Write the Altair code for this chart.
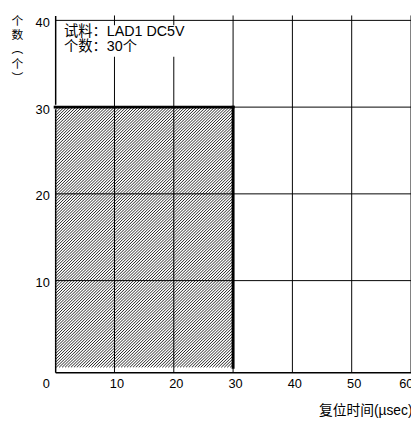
import altair as alt
import pandas as pd

# ---- data ----
bin_start = [0]
bin_end = [30]
bin_count = [30]
x_ticks = [0, 10, 20, 30, 40, 50, 60]
y_ticks = [0, 10, 20, 30, 40]
sample_name = "LAD1 DC5V"
sample_n = 30
x_title = "复位时间(µsec)"
y_title = ["个", "数", "︵", "个", "︶"]

FONT = "Liberation Sans, Noto Sans CJK SC"
W, H = 362, 363
XDOM, YDOM = [0, 60], [0, 40]

bars = pd.DataFrame({"start": bin_start, "end": bin_end, "count": bin_count})
vgrid = pd.DataFrame({"v": x_ticks[1:]})
hgrid = pd.DataFrame({"v": y_ticks[1:]})
note = pd.DataFrame({"label": [f"试料：{sample_name}\n个数：{sample_n}个"]})

# ---- hatch decoration: 45° strokes clipped to the bar, derived from bar extents ----
sx = W / (XDOM[1] - XDOM[0])   # px per x unit
sy = H / (YDOM[1] - YDOM[0])   # px per y unit
hatch_rows = []
spacing = 3.0
for s, e, c in zip(bin_start, bin_end, bin_count):
    bx0, bx1 = s * sx, e * sx
    bh = c * sy
    k = -(bx1 - bx0)
    while k < bh:
        px0 = max(0.0, -k)
        px1 = min(bx1 - bx0, bh - k)
        if px1 > px0:
            hatch_rows.append({
                "hx": (bx0 + px0) / sx, "hy": (px0 + k) / sy,
                "hx2": (bx0 + px1) / sx, "hy2": (px1 + k) / sy,
            })
        k += spacing
hatch = pd.DataFrame(hatch_rows)

xs = alt.Scale(domain=XDOM, nice=False, zero=False)
ys = alt.Scale(domain=YDOM, nice=False, zero=False)

bar = alt.Chart(bars).mark_bar(color="white").encode(
    x=alt.X("start:Q", scale=xs, axis=alt.Axis(
        values=x_ticks, title=x_title,
        labelExpr="datum.value == 0 ? '' : datum.label",
        labelPadding=6, labelOffset=2, labelFlush=True,
        titleAnchor="end", titleAlign="right", titleX=W + 1, titleY=39,
        titleBaseline="middle", titleFontSize=14,
    )),
    x2="end:Q",
    y=alt.Y("count:Q", scale=ys, axis=alt.Axis(
        values=y_ticks, title=y_title, titleAngle=0,
        titleX=-39, titleY=0, titleAlign="center", titleBaseline="top",
        titleLineHeight=14.5, titleFontSize=12,
        labelPadding=6, labelOffset=2, labelFlush=False,
        labelExpr="datum.value === 0 ? ['', datum.label] : datum.label",
        labelLineHeight=15,
    )),
)

hatch_layer = alt.Chart(hatch).mark_rule(color="#1a1a1a", strokeWidth=0.95).encode(
    x=alt.X("hx:Q", scale=xs), y=alt.Y("hy:Q", scale=ys), x2="hx2:Q", y2="hy2:Q"
)

vrules = alt.Chart(vgrid).mark_rule(color="black", strokeWidth=1).encode(
    x=alt.X("v:Q", scale=xs)
)
hrules = alt.Chart(hgrid).mark_rule(color="black", strokeWidth=1).encode(
    y=alt.Y("v:Q", scale=ys)
)

top_edge = alt.Chart(bars).mark_rule(color="black", strokeWidth=3, strokeCap="square").encode(
    x=alt.X("start:Q", scale=xs), x2="end:Q", y=alt.Y("count:Q", scale=ys)
)
right_edge = alt.Chart(bars).mark_rule(color="black", strokeWidth=3, strokeCap="square").encode(
    x=alt.X("end:Q", scale=xs), y=alt.Y("count:Q", scale=ys), y2=alt.datum(0)
)

note_bg = alt.Chart(note).mark_rect(color="white").encode(
    x=alt.value(5), x2=alt.value(150), y=alt.value(10), y2=alt.value(42)
)
note_text = alt.Chart(note).mark_text(
    align="left", baseline="top", fontSize=14.5, lineHeight=15,
    font=FONT, color="black", lineBreak="\n",
).encode(x=alt.value(9), y=alt.value(10), text="label:N")

chart = alt.layer(
    bar, hatch_layer, vrules, hrules, top_edge, right_edge, note_bg, note_text
).properties(
    width=W, height=H,
    padding={"left": 48, "top": 4, "right": 0, "bottom": 47},
    autosize=alt.AutoSizeParams(type="none"),
).configure_view(stroke="transparent").configure_axis(
    grid=False, ticks=False, tickSize=0,
    domainColor="black", domainWidth=1.5,
    labelFont=FONT, labelFontSize=13, labelColor="black",
    titleFont=FONT, titleFontWeight="normal", titleColor="black",
    zindex=1,
)

chart.save("out.html", embed_options={"renderer": "svg", "actions": False})
